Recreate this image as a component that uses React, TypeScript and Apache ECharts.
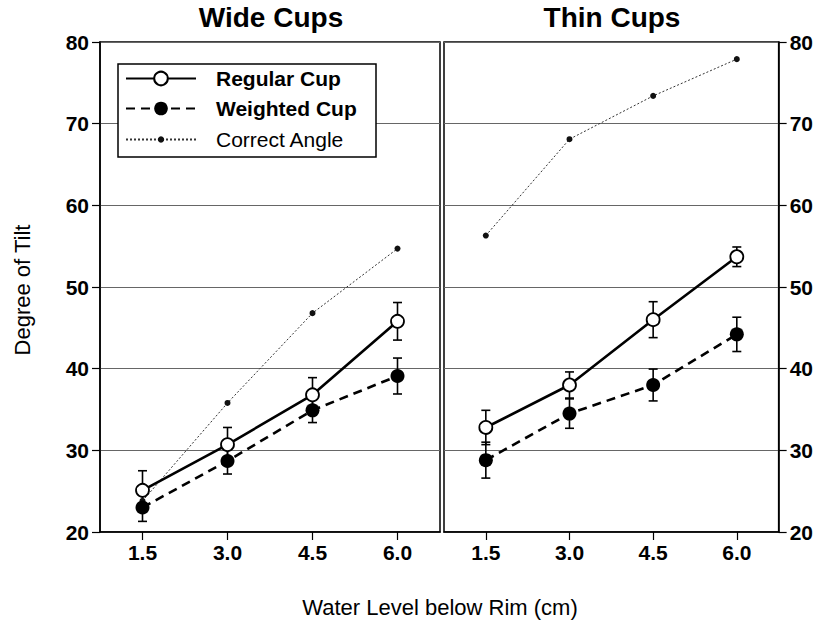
import React, { useEffect, useRef } from "react";
import * as echarts from "echarts";

const categories = ["1.5", "3.0", "4.5", "6.0"];
const panelTitles = ["Wide Cups", "Thin Cups"];
const seriesNames = ["Regular Cup", "Weighted Cup", "Correct Angle"];

const wideRegular = [25.1, 30.7, 36.8, 45.8];
const wideRegularErr = [2.4, 2.1, 2.1, 2.3];
const wideWeighted = [23.0, 28.7, 34.9, 39.1];
const wideWeightedErr = [1.7, 1.6, 1.5, 2.2];
const wideCorrect = [23.8, 35.8, 46.8, 54.7];

const thinRegular = [32.8, 38.0, 46.0, 53.7];
const thinRegularErr = [2.1, 1.6, 2.2, 1.2];
const thinWeighted = [28.8, 34.5, 38.0, 44.2];
const thinWeightedErr = [2.2, 1.8, 1.95, 2.1];
const thinCorrect = [56.3, 68.1, 73.4, 77.9];

const yMin = 20;
const yMax = 80;
const yInterval = 10;

const FONT = "'Liberation Sans', Arial, Helvetica, sans-serif";

function errData(vals: number[], errs: number[]) {
  return categories.map((c, i) => [c, vals[i] - errs[i], vals[i] + errs[i]]);
}

function renderErr(params: any, api: any) {
  const x = api.value(0);
  const lo = api.value(1);
  const hi = api.value(2);
  const pLo = api.coord([x, lo]);
  const pHi = api.coord([x, hi]);
  const w = 4.5;
  const style = { stroke: "#000", lineWidth: 1.6, fill: null };
  return {
    type: "group",
    children: [
      { type: "line", shape: { x1: pLo[0], y1: pLo[1], x2: pHi[0], y2: pHi[1] }, style },
      { type: "line", shape: { x1: pHi[0] - w, y1: pHi[1], x2: pHi[0] + w, y2: pHi[1] }, style },
      { type: "line", shape: { x1: pLo[0] - w, y1: pLo[1], x2: pLo[0] + w, y2: pLo[1] }, style },
    ],
  };
}

function panelSeries(idx: number, reg: number[], regE: number[], wt: number[], wtE: number[], cor: number[]) {
  return [
    {
      type: "custom",
      xAxisIndex: idx,
      yAxisIndex: idx,
      renderItem: renderErr,
      encode: { x: 0, y: [1, 2] },
      data: errData(reg, regE),
      z: 1,
      silent: true,
    },
    {
      type: "custom",
      xAxisIndex: idx,
      yAxisIndex: idx,
      renderItem: renderErr,
      encode: { x: 0, y: [1, 2] },
      data: errData(wt, wtE),
      z: 1,
      silent: true,
    },
    {
      name: seriesNames[2],
      type: "line",
      xAxisIndex: idx,
      yAxisIndex: idx,
      data: cor,
      symbol: "circle",
      symbolSize: 6,
      itemStyle: { color: "#111" },
      lineStyle: { color: "#333", width: 1, type: [2, 2] },
      z: 2,
    },
    {
      name: seriesNames[1],
      type: "line",
      xAxisIndex: idx,
      yAxisIndex: idx,
      data: wt,
      symbol: "circle",
      symbolSize: 14,
      itemStyle: { color: "#000" },
      lineStyle: { color: "#000", width: 2.6, type: [9, 6] },
      z: 3,
    },
    {
      name: seriesNames[0],
      type: "line",
      xAxisIndex: idx,
      yAxisIndex: idx,
      data: reg,
      symbol: "circle",
      symbolSize: 13,
      itemStyle: { color: "#fff", borderColor: "#000", borderWidth: 1.8 },
      lineStyle: { color: "#000", width: 2.6 },
      z: 4,
    },
  ];
}

function makeXAxis(gridIndex: number) {
  return {
    type: "category",
    gridIndex,
    data: categories,
    boundaryGap: true,
    axisLine: { show: true, lineStyle: { color: "#000", width: 1.5 } },
    axisTick: { show: true, alignWithLabel: true, length: 8, inside: false, lineStyle: { color: "#000", width: 1.2 } },
    axisLabel: { color: "#000", fontSize: 21, fontWeight: "bold", fontFamily: FONT, margin: 10 },
    splitLine: { show: false },
  };
}

function makeYAxis(gridIndex: number, position: string) {
  return {
    type: "value",
    gridIndex,
    position,
    min: yMin,
    max: yMax,
    interval: yInterval,
    axisLine: { show: true, lineStyle: { color: "#000", width: 1.5 } },
    axisTick: { show: true, length: 8, inside: false, lineStyle: { color: "#000", width: 1.2 } },
    axisLabel: { color: "#000", fontSize: 21, fontWeight: "bold", fontFamily: FONT, margin: 11 },
    splitLine: { show: true, lineStyle: { color: "#666", width: 1 } },
  };
}

export default function App() {
  const ref = useRef<HTMLDivElement>(null);
  useEffect(() => {
    if (!ref.current) return;
    const chart = echarts.init(ref.current, null, { renderer: "svg" });
    const option: any = {
      animation: false,
      backgroundColor: "#fff",
      textStyle: { fontFamily: FONT },
      title: [
        {
          text: panelTitles[0],
          left: 266,
          top: -2,
          textAlign: "center",
          textStyle: { fontSize: 28, fontWeight: "bold", color: "#000", fontFamily: FONT },
        },
        {
          text: panelTitles[1],
          left: 607,
          top: -2,
          textAlign: "center",
          textStyle: { fontSize: 28, fontWeight: "bold", color: "#000", fontFamily: FONT },
        },
      ],
      grid: [
        { left: 100, right: 816 - 440, top: 42, bottom: 627 - 532, show: true, borderColor: "#000", borderWidth: 1.5, backgroundColor: "transparent" },
        { left: 444, right: 816 - 781, top: 42, bottom: 627 - 532, show: true, borderColor: "#000", borderWidth: 1.5, backgroundColor: "transparent" },
      ],
      xAxis: [makeXAxis(0), makeXAxis(1)],
      yAxis: [makeYAxis(0, "left"), makeYAxis(1, "right")],
      legend: [
        {
          left: 125,
          top: 68,
          orient: "vertical",
          itemWidth: 70,
          itemHeight: 17,
          itemGap: 9,
          padding: 0,
          selectedMode: false,
          z: 6,
          textStyle: { fontSize: 21, color: "#000", fontFamily: FONT, padding: [0, 0, 0, 15] },
          data: [
            { name: seriesNames[0], textStyle: { fontWeight: "bold" } },
            { name: seriesNames[1], textStyle: { fontWeight: "bold" } },
          ],
        },
        {
          left: 125,
          top: 129,
          orient: "vertical",
          itemWidth: 70,
          itemHeight: 8,
          padding: 0,
          selectedMode: false,
          z: 6,
          textStyle: { fontSize: 21, color: "#000", fontFamily: FONT, padding: [0, 0, 0, 15] },
          data: [{ name: seriesNames[2], textStyle: { fontWeight: "normal" } }],
        },
      ],
      graphic: [
        {
          type: "rect",
          z: 5,
          shape: { x: 118, y: 64, width: 258, height: 93 },
          style: { fill: "#fff", stroke: "#000", lineWidth: 1.5 },
        },
        {
          type: "text",
          x: 440,
          y: 607,
          style: {
            text: "Water Level below Rim (cm)",
            fontSize: 22,
            fontFamily: FONT,
            fill: "#000",
            textAlign: "center",
            textVerticalAlign: "middle",
          },
        },
        {
          type: "text",
          x: 22,
          y: 290,
          rotation: Math.PI / 2,
          style: {
            text: "Degree of Tilt",
            fontSize: 22,
            fontFamily: FONT,
            fill: "#000",
            textAlign: "center",
            textVerticalAlign: "middle",
          },
        },
      ],
      series: [
        ...panelSeries(0, wideRegular, wideRegularErr, wideWeighted, wideWeightedErr, wideCorrect),
        ...panelSeries(1, thinRegular, thinRegularErr, thinWeighted, thinWeightedErr, thinCorrect),
      ],
    };
    chart.setOption(option);
    return () => chart.dispose();
  }, []);
  return (
    <div
      ref={ref}
      style={{ position: "fixed", left: 0, top: 0, width: 816, height: 627 }}
    />
  );
}
